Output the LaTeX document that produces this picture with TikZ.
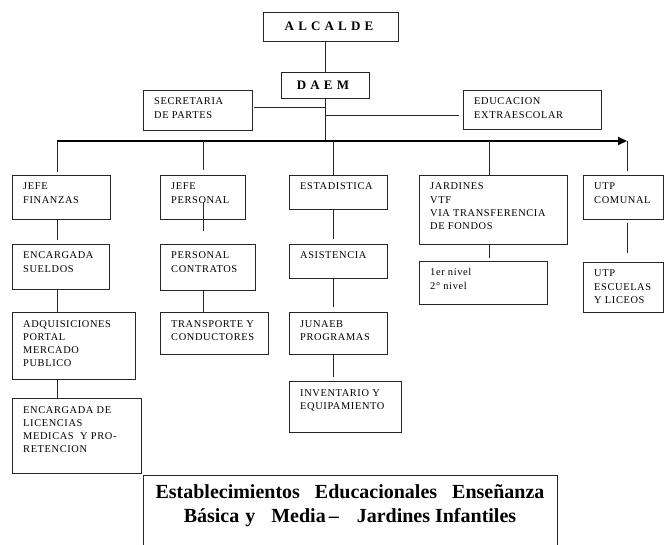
\documentclass[tikz,border=0pt]{standalone}
\usepackage{fontspec}
\setmainfont{Liberation Serif}
\newfontfamily\boxfont[LetterSpace=6]{Liberation Serif}
\newfontfamily\headfont[LetterSpace=32]{Liberation Serif}
\usetikzlibrary{arrows.meta,calc}
\newcommand\obox[6]{%
  \node[obox,minimum width={#4-#2},minimum height={#5-#3}] (#1) at (#2,#3) {};
  \node[lbl] (#1-t) at ($(#1.north west)+(11,15)$) {\parbox[t]{150pt}{\raggedright #6}};}
\begin{document}
\begin{tikzpicture}[x=1pt,y=-1pt,
  obox/.style={draw=black!85,line width=0.8pt,anchor=north west,inner sep=0pt,outer sep=0pt},
  lbl/.style={anchor=base west,inner sep=0pt,font=\boxfont\fontsize{10.4}{13.3}\selectfont},
  conn/.style={draw=black!85,line width=0.8pt},
  bar/.style={draw=black,line width=2pt,-{Triangle[length=9pt,width=8pt]}},
  head/.style={inner sep=0pt,font=\headfont\bfseries\fontsize{13}{15}\selectfont}]
\useasboundingbox (0,0) rectangle (664,545);

% top
\node[obox,minimum width=135,minimum height=29] (alcalde) at (263,12) {};
\node[head,xshift=-1.5pt] (alcalde-t) at (alcalde.center) {ALCALDE};
\node[obox,minimum width=88,minimum height=26] (daem) at (281,72) {};
\node[head,xshift=-2pt] (daem-t) at (daem.center) {DAEM};
\obox{sec}{143}{90}{252}{130}{SECRETARIA\\DE PARTES}
\obox{edu}{463}{90}{601}{129}{EDUCACION\\EXTRAESCOLAR}

% column 1
\obox{jf}{12}{175}{110}{219}{JEFE\\FINANZAS}
\obox{es}{12}{244}{109}{289}{ENCARGADA\\SUELDOS}
\obox{adq}{12}{312}{135}{379}{ADQUISICIONES\\PORTAL\\MERCADO\\PUBLICO}
\obox{lic}{12}{398}{141}{473}{ENCARGADA DE\\LICENCIAS\\MEDICAS\ \ Y PRO-\\RETENCION}
% column 2
\obox{jp}{160}{175}{245}{219}{JEFE\\PERSONAL}
\obox{pc}{160}{244}{255}{290}{PERSONAL\\CONTRATOS}
\obox{tr}{160}{312}{268}{354}{TRANSPORTE Y\\CONDUCTORES}
% column 3
\obox{est}{289}{175}{387}{209}{ESTADISTICA}
\obox{asi}{289}{244}{387}{278}{ASISTENCIA}
\obox{jun}{289}{312}{387}{354}{JUNAEB\\PROGRAMAS}
\obox{inv}{289}{381}{401}{432}{INVENTARIO Y\\EQUIPAMIENTO}
% column 4
\obox{jar}{419}{175}{567}{244}{JARDINES\\VTF\\VIA TRANSFERENCIA\\DE FONDOS}
\obox{niv}{419}{261}{547}{304}{1er nivel\\2° nivel}
% column 5
\obox{utpc}{583}{175}{663}{219}{UTP\\COMUNAL}
\obox{utpe}{583}{262}{663}{312}{UTP\\ESCUELAS\\Y LICEOS}

% bottom box
\node[obox,minimum width=414,minimum height=75] (estab) at (143,475) {};
\node[anchor=base,inner sep=0pt,font=\bfseries\fontsize{20}{24}\selectfont] (estab-t) at (350,498)
  {\parbox[t]{440pt}{\centering Establecimientos\hspace{10pt} Educacionales\hspace{10pt} Enseñanza\\
   Básica\hspace{1pt} y\hspace{11pt} Media\hspace{-2pt} –\hspace{13pt} Jardines Infantiles}};

% connectors
\coordinate (jS) at (325,107);
\coordinate (jE) at (325,115);
\coordinate (d1) at (57,141);
\coordinate (d2) at (203,141);
\coordinate (d3) at (333,141);
\coordinate (d4) at (489,141);
\coordinate (d5) at (627,141);

\draw[conn] (daem.north) -- (daem.north |- alcalde.south);
\draw[conn] (daem.south) -- (daem.south |- d1);
\draw[conn,shorten >=2pt] (jS) -- (jS -| sec.east);
\draw[conn,shorten >=4pt] (jE) -- (jE -| edu.west);
\draw[bar] (d1) -- (d5);
\draw[conn,shorten >=4pt] (d5) -- (d5 |- utpc.north);

\draw[conn,shorten >=3pt] (d1) -- (d1 |- jf.north);
\draw[conn,shorten >=4pt] (d1 |- jf.south) -- (d1 |- es.north);
\draw[conn] (d1 |- es.south) -- (d1 |- adq.north);
\draw[conn] (d1 |- adq.south) -- (d1 |- lic.north);

\draw[conn,shorten >=5pt] (d2) -- (d2 |- jp.north);
\draw[conn] ($(d2 |- jp.south)+(0,-17)$) -- ($(d2 |- pc.north)+(0,-13)$);
\draw[conn] (d2 |- pc.south) -- (d2 |- tr.north);

\draw[conn] (d3) -- (d3 |- est.north);
\draw[conn,shorten >=5pt] (d3 |- est.south) -- (d3 |- asi.north);
\draw[conn,shorten >=5pt] (d3 |- asi.south) -- (d3 |- jun.north);
\draw[conn,shorten >=4pt] (d3 |- jun.south) -- (d3 |- inv.north);

\draw[conn] (d4) -- (d4 |- jar.north);
\draw[conn,shorten >=3pt] (d4 |- jar.south) -- (d4 |- niv.north);

\draw[conn,shorten <=4pt,shorten >=9pt] (d5 |- utpc.south) -- (d5 |- utpe.north);
\end{tikzpicture}
\end{document}
